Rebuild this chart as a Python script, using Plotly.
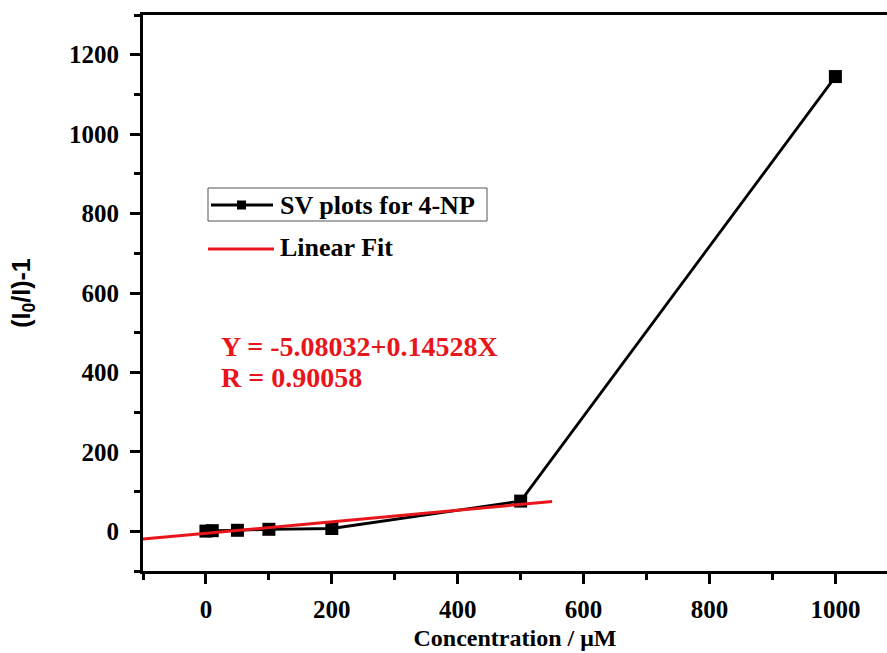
import plotly.graph_objects as go

# Stern-Volmer data for 4-NP quenching
concentration = [0, 10, 50, 100, 200, 500, 1000]          # µM
quench_ratio = [0.5, 1.5, 2.5, 5.0, 7.0, 76.0, 1145.0]    # (I0/I)-1

# Linear fit reported for the low-concentration range
fit_intercept = -5.08032
fit_slope = 0.14528
fit_r = 0.90058
fit_x = [-100, 550]
fit_y = [fit_intercept + fit_slope * x for x in fit_x]

x_ticks = [0, 200, 400, 600, 800, 1000]
y_ticks = [0, 200, 400, 600, 800, 1000, 1200]

W, H = 887, 653
L, R, T, B = 143, 0, 15, 82
PW, PH = W - L - R, H - T - B


def px(x):
    return (x - L) / PW


def py(y):
    return (H - B - y) / PH


serif = "Liberation Serif"
red = "#e8151b"
label_size = 26
equation_size = 28

fig = go.Figure()

fig.add_trace(go.Scatter(
    x=concentration, y=quench_ratio, mode="lines+markers",
    line=dict(color="black", width=2.8),
    marker=dict(symbol="square", size=13, color="black"),
    showlegend=False, cliponaxis=False,
))

fig.add_trace(go.Scatter(
    x=fit_x, y=fit_y, mode="lines",
    line=dict(color=red, width=3),
    showlegend=False,
))

axis_common = dict(
    showgrid=False, zeroline=False, showline=True, linecolor="black",
    linewidth=3, ticks="outside", ticklen=10, tickwidth=2.5,
    tickcolor="black",
    tickfont=dict(family=serif, size=25, color="black", weight="bold"),
    minor=dict(ticks="outside", ticklen=6, tickwidth=2.5, tickcolor="black",
               dtick=100),
)

fig.update_xaxes(
    range=[-100, 1082], tickvals=x_ticks, mirror=True,
    ticklabelstandoff=4,
    title=dict(text="Concentration / μM", standoff=8,
               font=dict(family=serif, size=24, color="black", weight="bold")),
    **axis_common,
)
fig.update_yaxes(
    range=[-100, 1300], tickvals=y_ticks, mirror=False,
    ticklabelstandoff=6,
    title=dict(text="(I<sub>0</sub>/I)-1", standoff=32,
               font=dict(family="Liberation Sans", size=25, color="black",
                         weight="bold")),
    **axis_common,
)

shapes = []
annotations = []

# Legend: boxed data-series entry
shapes.append(dict(type="rect", xref="paper", yref="paper",
                   x0=px(208), x1=px(487), y0=py(221), y1=py(188),
                   line=dict(color="#555555", width=1), fillcolor="white",
                   layer="above"))
shapes.append(dict(type="line", xref="paper", yref="paper",
                   x0=px(211), x1=px(273), y0=py(205), y1=py(205),
                   line=dict(color="black", width=2.8)))
shapes.append(dict(type="rect", xref="paper", yref="paper",
                   x0=px(237), x1=px(246), y0=py(209.5), y1=py(200.5),
                   line=dict(color="black", width=0), fillcolor="black"))
annotations.append(dict(xref="paper", yref="paper", x=px(278), y=py(205),
                        xanchor="left", yanchor="middle", showarrow=False,
                        text="SV plots for 4-NP",
                        font=dict(family=serif, size=label_size,
                                  color="black", weight="bold")))

# Legend: fit entry
shapes.append(dict(type="line", xref="paper", yref="paper",
                   x0=px(208), x1=px(274), y0=py(249), y1=py(249),
                   line=dict(color=red, width=3)))
annotations.append(dict(xref="paper", yref="paper", x=px(278), y=py(248),
                        xanchor="left", yanchor="middle", showarrow=False,
                        text="Linear Fit",
                        font=dict(family=serif, size=label_size,
                                  color="black", weight="bold")))

# Fit equation
annotations.append(dict(xref="paper", yref="paper", x=px(219), y=py(346),
                        xanchor="left", yanchor="middle", showarrow=False,
                        text=f"Y = {fit_intercept:.5f}+{fit_slope:.5f}X",
                        font=dict(family=serif, size=equation_size, color=red,
                                  weight="bold")))
annotations.append(dict(xref="paper", yref="paper", x=px(219), y=py(377),
                        xanchor="left", yanchor="middle", showarrow=False,
                        text=f"R = {fit_r:.5f}",
                        font=dict(family=serif, size=equation_size, color=red,
                                  weight="bold")))

fig.update_layout(
    width=W, height=H,
    margin=dict(l=L, r=R, t=T, b=B),
    paper_bgcolor="white", plot_bgcolor="white",
    shapes=shapes, annotations=annotations,
    showlegend=False,
)

fig.write_html("out.html")
